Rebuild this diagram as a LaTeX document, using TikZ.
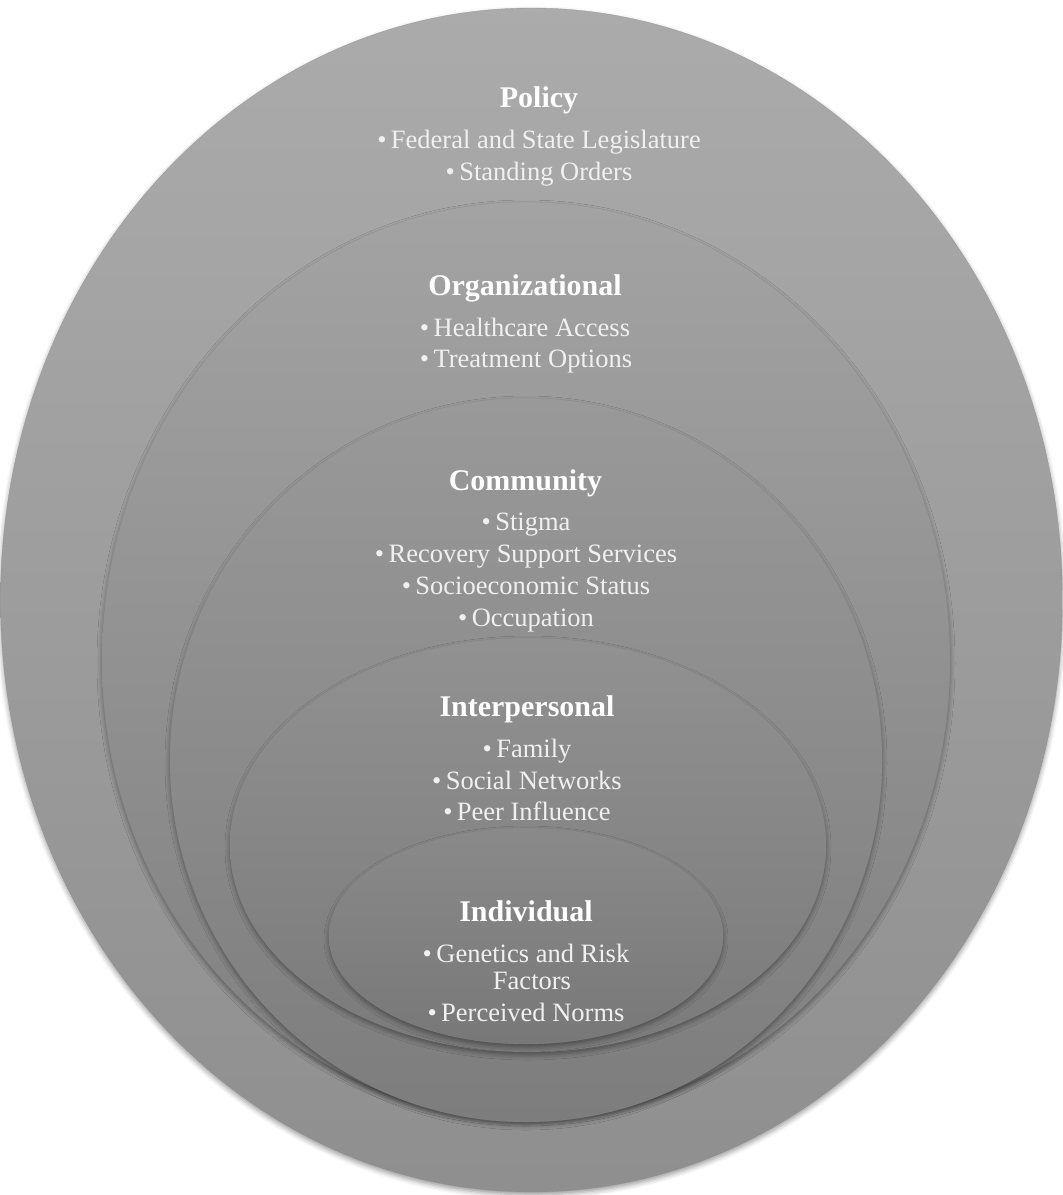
\documentclass[tikz,border=0pt]{standalone}
\usepackage{fontspec}
\setmainfont{Liberation Serif}
\usetikzlibrary{shapes.geometric,shadows.blur}
\begin{document}
\begin{tikzpicture}[x=1pt,y=-1pt,
  layer/.style={ellipse, inner sep=0pt, outer sep=0pt, draw=black!45, draw opacity=0.6, line width=0.4pt,
    blur shadow={shadow xshift=0pt, shadow yshift=-3pt, shadow blur radius=5pt, shadow opacity=40}},
  ttl/.style={anchor=base, text=white, inner sep=0pt, font=\bfseries\fontsize{30}{36}\selectfont},
  itm/.style={anchor=base, text=white!94!black, inner sep=0pt, font=\fontsize{26.5}{32}\selectfont},
]
\useasboundingbox (0,0) rectangle (1063,1195);
% layers
\node[layer, minimum width=1062pt, minimum height=1184pt, top color=black!33, bottom color=black!44] (policy) at (531.5,600) {};
\node[layer, minimum width=848pt, minimum height=916pt, top color=black!36, bottom color=black!50] (org) at (526,660) {};
\node[layer, minimum width=712pt, minimum height=724pt, top color=black!40, bottom color=black!51] (comm) at (526,760) {};
\node[layer, minimum width=596pt, minimum height=414pt, top color=black!43, bottom color=black!52] (inter) at (528,845) {};
\node[layer, minimum width=394pt, minimum height=216pt, top color=black!46, bottom color=black!53] (indiv) at (526,936) {};
% Policy
\node[ttl] (pt) at (539,107) {Policy};
\node[itm] (p1) at (539,148) {\textbullet\,Federal and State Legislature};
\node[itm] (p2) at (539,180) {\textbullet\,Standing Orders};
% Organizational
\node[ttl] (ot) at (525,295) {Organizational};
\node[itm] (o1) at (525,336) {\textbullet\,Healthcare Access};
\node[itm] (o2) at (526,367) {\textbullet\,Treatment Options};
% Community
\node[ttl] (ct) at (525.5,490) {Community};
\node[itm] (c1) at (526,530) {\textbullet\,Stigma};
\node[itm] (c2) at (526,562) {\textbullet\,Recovery Support Services};
\node[itm] (c3) at (526,594) {\textbullet\,Socioeconomic Status};
\node[itm] (c4) at (526,626) {\textbullet\,Occupation};
% Interpersonal
\node[ttl] (it) at (527,716) {Interpersonal};
\node[itm] (i1) at (527,757) {\textbullet\,Family};
\node[itm] (i2) at (527,789) {\textbullet\,Social Networks};
\node[itm] (i3) at (527,820) {\textbullet\,Peer Influence};
% Individual
\node[ttl] (nt) at (526,921) {Individual};
\node[itm] (n1) at (526,962) {\textbullet\,Genetics and Risk};
\node[itm] (n2) at (532,989) {Factors};
\node[itm] (n3) at (526,1021) {\textbullet\,Perceived Norms};
\end{tikzpicture}
\end{document}
